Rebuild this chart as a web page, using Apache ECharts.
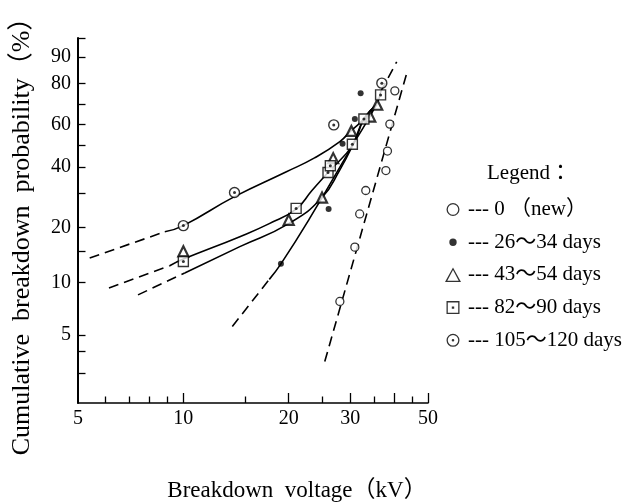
<!DOCTYPE html>
<html>
<head>
<meta charset="utf-8">
<script src="https://cdn.jsdelivr.net/npm/echarts@6/dist/echarts.min.js"></script>
<style>html,body{margin:0;padding:0;background:#fff}#c{width:629px;height:504px}</style>
</head>
<body>
<div id="c"></div>
<script>
// ---------- axis ticks / labels ----------
const xRange = [5, 50];
const yRange = [2, 95];
const xLabelValues = [5, 10, 20, 30, 50];
const xMajorTickValues = [10, 20, 30, 40, 50];
const xMinorTickValues = [6, 7, 8, 9, 15, 25, 35, 45];
const yLabelValues = [5, 10, 20, 40, 60, 80, 90];
const yTickValues = [3, 4, 5, 10, 15, 20, 30, 40, 50, 60, 70, 80, 90, 95];

const seriesNames = ['0 （new）', '26～34 days', '43～54 days', '82～90 days', '105～120 days'];

// ---------- measured points (kV, cumulative %) ----------
const newKV = [28.0, 30.9, 31.9, 33.2, 37.9, 38.3, 38.9, 40.2];
const newPct = [7.8, 15.7, 23.6, 31.0, 38.6, 47.1, 60.2, 76.6];
const d26KV = [19.0, 26.0, 28.5, 30.9, 32.1];
const d26Pct = [12.7, 25.0, 50.5, 62.8, 75.5];
const d43KV = [10, 20, 24.9, 26.8, 30.2, 34.2, 35.8];
const d43Pct = [14.9, 22.0, 28.6, 43.9, 56.8, 64.0, 69.9];
const d82KV = [10, 21.0, 25.9, 26.3, 30.4, 32.8, 36.6];
const d82Pct = [13.1, 25.2, 37.8, 40.6, 50.3, 62.8, 74.7];
const d105KV = [10, 14.0, 26.9, 36.9];
const d105Pct = [20.5, 30.3, 59.8, 80.1];

// ---------- fitted lines (kV, cumulative %) ----------
const newFitKV = [25.35, 43.5];
const newFitPct = [3.5, 84.4];
const d26FitLowKV = [13.8, 17.6];
const d26FitLowPct = [5.6, 10.4];
const d26FitKV = [17.6, 19.0, 23.0, 30.5, 35.7, 36.6];
const d26FitPct = [10.4, 12.7, 22.5, 50.0, 70.3, 76.1];
const d26FitHighKV = [36.6, 40.7];
const d26FitHighPct = [76.1, 88.5];
const d105FitLowKV = [5.4, 8.85];
const d105FitLowPct = [13.7, 19.0];
const d105FitKV = [8.85, 10, 14.0, 19.7, 23.7, 28.0, 30.2, 32.8, 35.7];
const d105FitPct = [19.0, 20.5, 28.9, 38.1, 44.0, 51.6, 57.0, 62.7, 70.0];
const d82FitLowKV = [6.13, 9.14];
const d82FitLowPct = [9.3, 12.4];
const d82FitKV = [9.14, 10, 14.5, 17.6, 21.0, 23.3, 25.9, 30.5, 32.8, 35.7];
const d82FitPct = [12.4, 13.5, 17.9, 21.0, 25.0, 31.0, 37.8, 50.0, 62.7, 70.0];
const d43FitLowKV = [7.42, 10.09];
const d43FitLowPct = [8.5, 11.3];
const d43FitKV = [10.09, 14.5, 20.0, 24.9, 28.0, 30.5, 32.8, 35.7];
const d43FitPct = [11.3, 15.8, 21.0, 28.6, 38.9, 50.0, 62.7, 70.0];

// ---------- helpers ----------
const fontFamily = "'Liberation Serif','Noto Sans CJK JP',serif";
const tx = v => Math.log10(v);
const ty = p => Math.log(-Math.log(1 - p / 100));
const fromX = t => Math.pow(10, t);
const fromY = t => (1 - Math.exp(-Math.exp(t))) * 100;
const pts = (kv, pct) => kv.map((v, i) => [tx(v), ty(pct[i])]);

const lineSeries = (kv, pct, dashed) => ({
  type: 'line', data: pts(kv, pct), symbol: 'none',
  smooth: dashed ? false : 0.5, silent: true, z: 2,
  lineStyle: { color: '#000', width: 1.6, type: dashed ? [10, 6] : 'solid' }
});
const dotSeries = (kv, pct) => ({
  type: 'scatter', data: pts(kv, pct), symbol: 'circle', symbolSize: 3, silent: true, z: 6,
  itemStyle: { color: '#000' }
});

const ICON_OPEN = 'path://M0 0L0 0ZM20 20L20 20ZM10 3.5A6.5 6.5 0 1 1 10 16.5A6.5 6.5 0 1 1 10 3.5ZM10 4.8A5.2 5.2 0 1 0 10 15.2A5.2 5.2 0 1 0 10 4.8Z';
const ICON_DOT = 'path://M0 0L0 0ZM20 20L20 20ZM10 6.3A3.7 3.7 0 1 1 10 13.7A3.7 3.7 0 1 1 10 6.3Z';
const ICON_TRI = 'path://M0 0L0 0ZM20 20L20 20ZM10 2.5L18 17L2 17ZM10 5.2L4.3 15.8L15.7 15.8Z';
const ICON_SQ = 'path://M0 0L0 0ZM20 20L20 20ZM3.5 3.5L16.5 3.5L16.5 16.5L3.5 16.5ZM4.8 4.8L4.8 15.2L15.2 15.2L15.2 4.8ZM8.8 8.8L11.2 8.8L11.2 11.2L8.8 11.2Z';
const ICON_CD = 'path://M0 0L0 0ZM20 20L20 20ZM10 3.5A6.5 6.5 0 1 1 10 16.5A6.5 6.5 0 1 1 10 3.5ZM10 4.8A5.2 5.2 0 1 0 10 15.2A5.2 5.2 0 1 0 10 4.8ZM10 8.7A1.3 1.3 0 1 1 10 11.3A1.3 1.3 0 1 1 10 8.7Z';

const axisCommon = {
  type: 'value',
  splitLine: { show: false },
  axisLine: { onZero: false, lineStyle: { color: '#000', width: 1.6 } }
};

const chart = echarts.init(document.getElementById('c'), null, { renderer: 'canvas' });
chart.setOption({
  animation: false,
  backgroundColor: '#fff',
  grid: { left: 78, right: 201, top: 38, bottom: 101 },
  xAxis: [
    Object.assign({}, axisCommon, {
      min: tx(xRange[0]), max: tx(xRange[1]), position: 'bottom',
      axisTick: { inside: true, length: 10, customValues: xMajorTickValues.map(tx), lineStyle: { color: '#000', width: 1.3 } },
      axisLabel: { customValues: xLabelValues.map(tx), formatter: v => String(Math.round(fromX(v))),
        color: '#000', fontSize: 20, fontFamily, margin: 6 }
    }),
    Object.assign({}, axisCommon, {
      min: tx(xRange[0]), max: tx(xRange[1]), position: 'bottom',
      axisLine: { show: false, onZero: false },
      axisTick: { inside: true, length: 6.5, customValues: xMinorTickValues.map(tx), lineStyle: { color: '#000', width: 1.3 } },
      axisLabel: { show: false }
    })
  ],
  yAxis: Object.assign({}, axisCommon, {
    min: ty(yRange[0]), max: ty(yRange[1]),
    axisLine: { onZero: false, lineStyle: { color: '#000', width: 2 } },
    axisTick: { inside: true, length: 7.5, customValues: yTickValues.map(ty), lineStyle: { color: '#000', width: 1.3 } },
    axisLabel: { customValues: yLabelValues.map(ty), formatter: v => String(Math.round(fromY(v))),
      color: '#000', fontSize: 20, fontFamily, margin: 7 }
  }),
  legend: {
    orient: 'vertical', left: 443, top: 199, padding: 0,
    itemWidth: 20, itemHeight: 20, itemGap: 11.7, selectedMode: false,
    itemStyle: { color: '#000', borderWidth: 0 },
    textStyle: { color: '#000', fontSize: 21, fontFamily },
    formatter: '--- {name}',
    data: [
      { name: seriesNames[0], icon: ICON_OPEN },
      { name: seriesNames[1], icon: ICON_DOT },
      { name: seriesNames[2], icon: ICON_TRI },
      { name: seriesNames[3], icon: ICON_SQ },
      { name: seriesNames[4], icon: ICON_CD }
    ]
  },
  graphic: [
    { type: 'text', left: 487, top: 163, style: { text: 'Legend：', fill: '#000', font: "21px " + fontFamily } },
    { type: 'text', x: 297, y: 491, style: { text: 'Breakdown  voltage（kV）', fill: '#000', font: "23px " + fontFamily, align: 'center', verticalAlign: 'middle' } },
    { type: 'text', x: 22, y: 230, rotation: Math.PI / 2, style: { text: 'Cumulative  breakdown  probability（%）', fill: '#000', font: "26px " + fontFamily, align: 'center', verticalAlign: 'middle' } }
  ],
  series: [
    lineSeries(newFitKV, newFitPct, true),
    lineSeries(d26FitLowKV, d26FitLowPct, true),
    lineSeries(d26FitKV, d26FitPct, false),
    lineSeries(d26FitHighKV, d26FitHighPct, true),
    lineSeries(d105FitLowKV, d105FitLowPct, true),
    lineSeries(d105FitKV, d105FitPct, false),
    lineSeries(d82FitLowKV, d82FitLowPct, true),
    lineSeries(d82FitKV, d82FitPct, false),
    lineSeries(d43FitLowKV, d43FitLowPct, true),
    lineSeries(d43FitKV, d43FitPct, false),
    { name: seriesNames[0], type: 'scatter', data: pts(newKV, newPct), symbol: 'circle', symbolSize: 8, z: 5,
      itemStyle: { color: '#fff', borderColor: '#000', borderWidth: 1.3 } },
    { name: seriesNames[1], type: 'scatter', data: pts(d26KV, d26Pct), symbol: 'circle', symbolSize: 6, z: 5,
      itemStyle: { color: '#000' } },
    { name: seriesNames[2], type: 'scatter', data: pts(d43KV, d43Pct), symbol: 'triangle', symbolSize: 10, z: 5,
      itemStyle: { color: '#fff', borderColor: '#000', borderWidth: 2.2 } },
    { name: seriesNames[3], type: 'scatter', data: pts(d82KV, d82Pct), symbol: 'rect', symbolSize: 10, z: 5,
      itemStyle: { color: '#fff', borderColor: '#000', borderWidth: 1.4 } },
    dotSeries(d82KV, d82Pct),
    { name: seriesNames[4], type: 'scatter', data: pts(d105KV, d105Pct), symbol: 'circle', symbolSize: 10, z: 5,
      itemStyle: { color: '#fff', borderColor: '#000', borderWidth: 1.4 } },
    dotSeries(d105KV, d105Pct)
  ]
});
</script>
</body>
</html>
